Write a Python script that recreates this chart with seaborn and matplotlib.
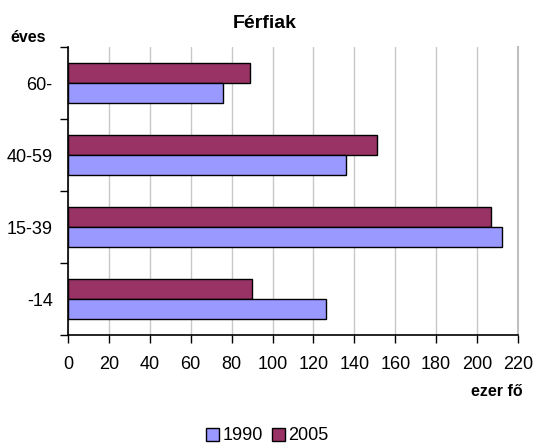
import matplotlib
matplotlib.use("Agg")
import matplotlib.pyplot as plt
import seaborn as sns
import pandas as pd
from matplotlib.patches import Patch
from matplotlib.ticker import FixedLocator

categories = ["60-", "40-59", "15-39", "-14"]
values_1990 = [76, 136, 212, 126]
values_2005 = [89, 151, 207, 90]
years = ["1990", "2005"]
colors = {"1990": "#9999FF", "2005": "#993366"}
x_ticks = list(range(0, 221, 20))

df = pd.DataFrame({
    "age": categories * 2,
    "value": values_1990 + values_2005,
    "year": ["1990"] * 4 + ["2005"] * 4,
})

sns.set_theme(style="white")
plt.rcParams["font.family"] = ["Liberation Sans", "DejaVu Sans"]
plt.rcParams["text.color"] = "black"
plt.rcParams["xtick.labelcolor"] = "black"
plt.rcParams["ytick.labelcolor"] = "black"

fig = plt.figure(figsize=(5.34, 4.46), dpi=100)
ax = fig.add_axes([68 / 534, 1 - 335 / 446, 450 / 534, 288 / 446])

sns.barplot(data=df, y="age", x="value", hue="year", order=categories,
            hue_order=["2005", "1990"], palette=colors, orient="h",
            width=0.56, edgecolor="black", linewidth=1.0, ax=ax, legend=False,
            saturation=1, zorder=3)

ax.set_xlim(0, 220)
ax.set_ylim(3.5, -0.5)
ax.set_xticks(x_ticks)
ax.set_xticklabels([str(t) for t in x_ticks], fontsize=13, color="black")
ax.xaxis.grid(True, color="#C8C8C8", linewidth=1.0, zorder=0)
ax.set_axisbelow(True)
ax.tick_params(axis="x", direction="out", length=6, width=1, color="black",
               pad=9, bottom=True)
ax.tick_params(axis="y", which="major", length=0, pad=11, labelsize=13,
               labelcolor="black")
ax.yaxis.set_minor_locator(FixedLocator([-0.5, 0.5, 1.5, 2.5, 3.5]))
ax.tick_params(axis="y", which="minor", direction="out", length=6, width=1,
               color="black", left=True)
ax.set_xlabel("")
ax.set_ylabel("")

for s in ["left", "bottom"]:
    ax.spines[s].set_color("black")
    ax.spines[s].set_linewidth(1.2)
ax.spines["top"].set_visible(False)
ax.spines["right"].set_color("#C0C0C0")
ax.spines["right"].set_linewidth(1.5)

fig.text(265 / 534, 1 - 24 / 446, "Férfiak", ha="center", va="center",
         fontsize=14, fontweight="bold", color="black")
fig.text(10 / 534, 1 - 38 / 446, "éves", ha="left", va="center",
         fontsize=11.5, fontweight="bold", color="black")
fig.text(523 / 534, 1 - 391 / 446, "ezer fő", ha="right", va="center",
         fontsize=11.5, fontweight="bold", color="black")

handles = [Patch(facecolor=colors[y], edgecolor="black", linewidth=1.0) for y in years]
fig.legend(handles, years, loc="center", bbox_to_anchor=(267 / 534, 1 - 436 / 446),
           ncol=2, frameon=False, fontsize=13, handlelength=0.75, handleheight=0.75,
           handletextpad=0.15, columnspacing=0.5, borderaxespad=0,
           labelcolor="black")

fig.savefig("out.png", dpi=100)
